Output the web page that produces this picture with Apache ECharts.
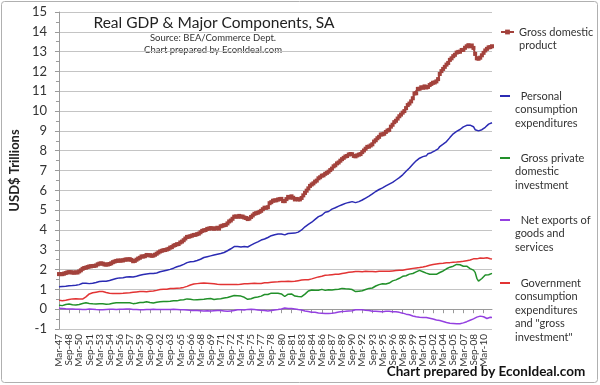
<!DOCTYPE html>
<html><head><meta charset="utf-8">
<script src="https://cdn.jsdelivr.net/npm/echarts@6/dist/echarts.min.js"></script>
<style>html,body{margin:0;padding:0;background:#fff}#c{width:600px;height:385px}</style>
</head><body><div id="c"></div>
<script>
// Quarterly, Mar-47 .. Jun-11, USD trillions (chained dollars)
const firstYear = 1947, quarterCount = 258;
const quarterNames = ['Mar','Jun','Sep','Dec'];
const labelEvery = 6;

const gdp = [
1.772,1.770,1.768,1.795, 1.823,1.857,1.867,1.869, 1.848,1.843,1.862,1.851, 1.907,1.963,2.036,2.080,
2.095,2.127,2.157,2.165, 2.180,2.185,2.205,2.264, 2.299,2.312,2.298,2.257, 2.252,2.256,2.280,2.317,
2.373,2.405,2.436,2.456, 2.444,2.461,2.461,2.494, 2.514,2.505,2.525,2.487, 2.421,2.437,2.497,2.553,
2.594,2.661,2.658,2.676, 2.737,2.721,2.726,2.694, 2.706,2.748,2.800,2.861, 2.913,2.947,2.976,2.988,
3.013,3.044,3.108,3.132, 3.204,3.238,3.279,3.288, 3.367,3.412,3.481,3.568, 3.647,3.657,3.684,3.713,
3.747,3.753,3.788,3.815, 3.882,3.952,3.981,3.995, 4.053,4.066,4.094,4.074, 4.068,4.072,4.110,4.067,
4.182,4.211,4.241,4.254, 4.330,4.428,4.478,4.563, 4.670,4.681,4.664,4.709, 4.665,4.677,4.626,4.604,
4.548,4.575,4.655,4.730, 4.814,4.846,4.869,4.913, 4.964,5.046,5.122,5.116, 5.146,5.350,5.402,5.474,
5.492,5.495,5.535,5.554, 5.568,5.456,5.453,5.556, 5.668,5.629,5.697,5.624, 5.539,5.565,5.537,5.543,
5.614,5.745,5.867,5.982, 6.098,6.222,6.294,6.351, 6.438,6.491,6.605,6.660, 6.738,6.757,6.833,6.880,
6.940,7.021,7.096,7.210, 7.264,7.358,7.406,7.495, 7.573,7.639,7.708,7.733, 7.807,7.833,7.821,7.736,
7.714,7.763,7.801,7.829, 7.928,8.011,8.101,8.192, 8.207,8.264,8.323,8.460, 8.527,8.628,8.699,8.813,
8.826,8.856,8.945,9.017, 9.050,9.213,9.309,9.440, 9.510,9.621,9.738,9.823, 9.920,9.999,10.149,10.302,
10.379,10.489,10.646,10.889, 10.899,11.119,11.125,11.200, 11.174,11.245,11.188,11.218, 11.313,11.370,11.428,11.444,
11.498,11.611,11.872,12.016, 12.127,12.232,12.345,12.430, 12.583,12.662,12.770,12.840, 12.951,12.986,12.996,13.082,
13.089,13.194,13.269,13.326, 13.267,13.311,13.187,12.884, 12.663,12.641,12.695,12.814, 12.938,13.059,13.140,13.216,
13.228,13.272
];

const pce = [
1.13,1.14,1.15,1.15, 1.16,1.17,1.18,1.19, 1.19,1.21,1.21,1.22, 1.24,1.26,1.31,1.28,
1.31,1.28,1.29,1.30, 1.31,1.33,1.35,1.38, 1.40,1.41,1.41,1.40, 1.41,1.43,1.45,1.47,
1.50,1.53,1.55,1.57, 1.58,1.58,1.59,1.60, 1.62,1.62,1.64,1.64, 1.62,1.64,1.66,1.68,
1.71,1.74,1.75,1.76, 1.78,1.80,1.80,1.80, 1.80,1.82,1.83,1.86, 1.89,1.91,1.93,1.95,
1.97,1.98,2.01,2.03, 2.07,2.10,2.14,2.15, 2.19,2.22,2.26,2.32, 2.35,2.36,2.39,2.40,
2.41,2.44,2.46,2.47, 2.52,2.56,2.61,2.62, 2.65,2.67,2.69,2.71, 2.73,2.74,2.77,2.76,
2.81,2.84,2.86,2.90, 2.95,3.00,3.05,3.11, 3.16,3.15,3.16,3.15, 3.14,3.14,3.16,3.12,
3.14,3.19,3.23,3.26, 3.32,3.36,3.40,3.45, 3.49,3.51,3.54,3.60, 3.62,3.69,3.71,3.74,
3.76,3.76,3.79,3.80, 3.79,3.71,3.75,3.80, 3.82,3.82,3.83,3.80, 3.84,3.86,3.89,3.96,
4.00,4.08,4.16,4.23, 4.28,4.35,4.39,4.44, 4.53,4.58,4.67,4.69, 4.74,4.81,4.89,4.92,
4.93,4.99,5.05,5.05, 5.12,5.16,5.20,5.25, 5.27,5.29,5.34,5.36, 5.39,5.41,5.43,5.40,
5.38,5.41,5.43,5.42, 5.51,5.55,5.61,5.68, 5.71,5.76,5.82,5.87, 5.94,5.99,6.04,6.10,
6.12,6.17,6.22,6.26, 6.31,6.37,6.40,6.45, 6.52,6.55,6.64,6.71, 6.78,6.88,6.96,7.05,
7.13,7.23,7.32,7.41, 7.49,7.55,7.62,7.67, 7.70,7.72,7.74,7.85, 7.87,7.90,7.95,7.99,
8.02,8.09,8.21,8.25, 8.33,8.38,8.46,8.56, 8.66,8.76,8.85,8.87, 8.97,9.01,9.07,9.16,
9.20,9.23,9.28,9.31, 9.29,9.30,9.21,9.06, 9.04,9.00,9.05,9.06, 9.12,9.18,9.25,9.34,
9.39,9.41
];

const investment = [
0.20,0.19,0.18,0.22, 0.24,0.26,0.26,0.25, 0.22,0.19,0.21,0.20, 0.24,0.27,0.29,0.33,
0.32,0.31,0.29,0.27, 0.27,0.25,0.26,0.28, 0.28,0.28,0.27,0.25, 0.25,0.25,0.26,0.28,
0.30,0.32,0.33,0.34, 0.33,0.33,0.33,0.33, 0.32,0.32,0.32,0.30, 0.28,0.28,0.30,0.32,
0.34,0.37,0.34,0.35, 0.38,0.35,0.34,0.31, 0.31,0.33,0.35,0.36, 0.37,0.38,0.39,0.38,
0.39,0.39,0.40,0.41, 0.42,0.42,0.42,0.43, 0.46,0.46,0.48,0.49, 0.52,0.51,0.50,0.50,
0.47,0.46,0.48,0.49, 0.49,0.51,0.50,0.50, 0.53,0.53,0.54,0.52, 0.49,0.50,0.51,0.48,
0.53,0.55,0.56,0.56, 0.59,0.62,0.64,0.66, 0.69,0.70,0.68,0.71, 0.66,0.64,0.60,0.59,
0.50,0.48,0.53,0.55, 0.59,0.61,0.62,0.63, 0.66,0.70,0.74,0.73, 0.74,0.79,0.81,0.83,
0.81,0.82,0.80,0.78, 0.77,0.68,0.64,0.70, 0.76,0.73,0.77,0.72, 0.66,0.66,0.64,0.60,
0.63,0.69,0.76,0.84, 0.92,0.96,0.97,0.96, 0.95,0.96,0.96,0.98, 1.00,0.97,0.95,0.95,
0.98,0.97,0.97,1.03, 0.99,1.01,1.01,1.02, 1.05,1.04,1.03,1.01, 1.02,1.01,0.99,0.93,
0.89,0.88,0.91,0.93, 0.93,0.98,0.99,1.03, 1.05,1.06,1.07,1.13, 1.17,1.24,1.24,1.28,
1.28,1.26,1.27,1.29, 1.32,1.37,1.43,1.44, 1.48,1.54,1.56,1.59, 1.66,1.66,1.69,1.73,
1.77,1.77,1.80,1.86, 1.88,1.98,1.96,1.96, 1.89,1.85,1.82,1.74, 1.76,1.76,1.76,1.75,
1.76,1.78,1.85,1.90, 1.93,2.01,2.04,2.09, 2.12,2.14,2.17,2.22, 2.26,2.27,2.24,2.19,
2.17,2.18,2.17,2.11, 2.05,2.03,1.97,1.86, 1.56,1.42,1.43,1.55, 1.64,1.73,1.80,1.74,
1.78,1.81
];

const netExports = [
0.05,0.05,0.04,0.03, 0.02,0.01,0.01,0.01, 0.01,0.02,0.00,0.00, 0.00,0.00,-0.02,-0.02,
-0.01,0.00,0.01,0.01, 0.00,-0.01,-0.02,-0.02, -0.03,-0.03,-0.03,-0.02, -0.01,-0.01,0.00,0.00,
0.00,-0.01,-0.01,-0.01, 0.00,0.00,0.00,0.01, 0.01,0.01,0.01,0.00, -0.01,-0.01,-0.02,-0.03,
-0.03,-0.04,-0.03,-0.03, -0.02,-0.02,-0.01,-0.01, 0.00,-0.01,-0.02,-0.02, -0.02,-0.02,-0.02,-0.03,
-0.02,-0.01,-0.02,-0.01, 0.00,-0.01,-0.01,-0.01, -0.03,-0.02,-0.03,-0.04, -0.04,-0.05,-0.06,-0.06,
-0.06,-0.06,-0.07,-0.08, -0.08,-0.08,-0.09,-0.09, -0.08,-0.09,-0.09,-0.09, -0.08,-0.07,-0.07,-0.07,
-0.07,-0.09,-0.09,-0.10, -0.11,-0.10,-0.09,-0.09, -0.07,-0.05,-0.03,-0.02, -0.03,-0.03,-0.04,-0.03,
-0.01,0.01,0.00,0.00, -0.02,-0.03,-0.04,-0.05, -0.06,-0.07,-0.07,-0.08, -0.09,-0.07,-0.07,-0.06,
-0.04,-0.04,-0.02,-0.01, 0.01,0.04,0.06,0.05, 0.04,0.03,0.03,0.02, 0.01,0.02,-0.02,-0.03,
-0.04,-0.07,-0.09,-0.10, -0.12,-0.14,-0.15,-0.16, -0.16,-0.18,-0.19,-0.20, -0.20,-0.21,-0.22,-0.22,
-0.22,-0.21,-0.21,-0.20, -0.18,-0.16,-0.14,-0.14, -0.12,-0.11,-0.11,-0.10, -0.09,-0.08,-0.08,-0.05,
-0.03,-0.02,-0.03,-0.03, -0.03,-0.05,-0.06,-0.06, -0.07,-0.09,-0.10,-0.10, -0.11,-0.12,-0.12,-0.12,
-0.13,-0.13,-0.11,-0.10, -0.11,-0.11,-0.13,-0.12, -0.13,-0.15,-0.16,-0.17, -0.20,-0.23,-0.25,-0.25,
-0.28,-0.31,-0.34,-0.36, -0.38,-0.40,-0.41,-0.42, -0.42,-0.42,-0.42,-0.43, -0.46,-0.49,-0.50,-0.53,
-0.55,-0.56,-0.57,-0.59, -0.62,-0.65,-0.67,-0.70, -0.71,-0.71,-0.72,-0.73, -0.73,-0.73,-0.73,-0.70,
-0.69,-0.67,-0.63,-0.59, -0.56,-0.50,-0.49,-0.48, -0.40,-0.33,-0.35,-0.35, -0.38,-0.45,-0.47,-0.41,
-0.41,-0.42
];

const government = [
0.45,0.44,0.43,0.44, 0.45,0.47,0.49,0.51, 0.52,0.53,0.53,0.52, 0.52,0.51,0.51,0.55,
0.62,0.70,0.77,0.80, 0.83,0.85,0.86,0.87, 0.89,0.90,0.89,0.87, 0.84,0.82,0.80,0.80,
0.79,0.79,0.79,0.79, 0.79,0.80,0.80,0.81, 0.82,0.83,0.83,0.84, 0.85,0.86,0.87,0.89,
0.89,0.89,0.89,0.88, 0.88,0.89,0.90,0.91, 0.92,0.94,0.95,0.97, 0.99,1.00,1.01,1.01,
1.01,1.02,1.04,1.04, 1.05,1.06,1.06,1.06, 1.07,1.08,1.10,1.13, 1.15,1.18,1.22,1.24,
1.27,1.28,1.29,1.30, 1.31,1.32,1.32,1.32, 1.31,1.31,1.30,1.29, 1.28,1.27,1.26,1.26,
1.25,1.24,1.24,1.24, 1.24,1.25,1.24,1.24, 1.24,1.24,1.24,1.25, 1.26,1.27,1.28,1.28,
1.29,1.30,1.30,1.31, 1.31,1.30,1.30,1.30, 1.30,1.32,1.33,1.33, 1.34,1.35,1.36,1.37,
1.37,1.37,1.38,1.38, 1.40,1.41,1.40,1.40, 1.41,1.41,1.40,1.41, 1.41,1.42,1.44,1.46,
1.47,1.47,1.48,1.48, 1.49,1.52,1.53,1.56, 1.58,1.61,1.63,1.64, 1.66,1.68,1.71,1.71,
1.72,1.74,1.74,1.76, 1.76,1.76,1.76,1.78, 1.80,1.81,1.83,1.84, 1.86,1.87,1.88,1.90,
1.90,1.90,1.90,1.89, 1.89,1.90,1.91,1.91, 1.90,1.90,1.90,1.89, 1.89,1.89,1.91,1.90,
1.91,1.91,1.91,1.90, 1.91,1.93,1.93,1.94, 1.95,1.96,1.97,1.97, 1.97,1.99,2.00,2.02,
2.03,2.04,2.06,2.09, 2.08,2.10,2.10,2.11, 2.13,2.16,2.17,2.20, 2.22,2.24,2.25,2.27,
2.28,2.31,2.31,2.31, 2.32,2.33,2.34,2.34, 2.35,2.36,2.37,2.36, 2.38,2.39,2.40,2.42,
2.42,2.43,2.45,2.46, 2.48,2.51,2.54,2.55, 2.54,2.58,2.58,2.58, 2.57,2.60,2.60,2.59,
2.55,2.53
];

const seriesNames = ['Gross domestic product','Personal consumption expenditures','Gross private domestic investment','Net exports of goods and services','Government consumption expenditures and "gross investment"'];
const legendLines = [
  ['Gross domestic','product'],
  ['\u00a0\u00a0Personal','consumption','expenditures'],
  ['\u00a0\u00a0Gross private','domestic','investment'],
  ['\u00a0\u00a0Net exports of','goods and','services'],
  ['\u00a0\u00a0Government','consumption','expenditures','and "gross','investment"']
];
const colors = ['#A3423C','#2B2BB3','#22902A','#9440E0','#E23434'];

const categories = [];
for (let i = 0; i < quarterCount; i++) {
  const y = firstYear + Math.floor(i / 4);
  categories.push(quarterNames[i % 4] + '-' + String(y).slice(2));
}

const FONT = 'Lato, "Open Sans", sans-serif';
const LH = 13.5;
const legendIconY = [32, 96, 158, 220, 283];

const legends = seriesNames.map((name, i) => {
  const n = legendLines[i].length;
  const blanks = new Array(n - 1).fill('');
  const text = blanks.concat(legendLines[i]).join('\n');
  const lg = {
    data: [name],
    left: 500,
    top: legendIconY[i] - (2 * n - 1) * LH / 2,
    padding: 0,
    itemWidth: 13,
    itemHeight: 6,
    itemGap: 0,
    selectedMode: false,
    formatter: () => text,
    textStyle: { fontFamily: FONT, fontSize: 11, color: '#333', lineHeight: LH }
  };
  if (i > 0) { lg.icon = 'rect'; lg.itemHeight = 2; lg.itemWidth = 10; }
  return lg;
});

const dataSets = [gdp, pce, investment, netExports, government];
const series = seriesNames.map((name, i) => {
  const s = {
    name: name, type: 'line', data: dataSets[i],
    color: colors[i],
    lineStyle: { color: colors[i], width: i === 0 ? 2 : 1.5 },
    symbol: 'none', animation: false
  };
  if (i === 0) {
    s.symbol = 'rect'; s.symbolSize = 4; s.showAllSymbol = true;
    s.itemStyle = { color: colors[0] };
  }
  return s;
});

const everySixth = (idx) => idx % labelEvery === 0;

const chart = echarts.init(document.getElementById('c'), null, { renderer: 'canvas' });
chart.setOption({
  animation: false,
  backgroundColor: '#fff',
  grid: { left: 58, right: 108, top: 12, bottom: 56 },
  legend: legends,
  xAxis: {
    type: 'category', data: categories, boundaryGap: false,
    axisLine: { lineStyle: { color: '#9a9a9a' } },
    axisTick: { interval: everySixth, length: 4, lineStyle: { color: '#9a9a9a' } },
    axisLabel: { interval: everySixth, rotate: 90, margin: 5, showMinLabel: true, showMaxLabel: true, hideOverlap: false,
                 fontFamily: FONT, fontSize: 10, color: '#333' },
    splitLine: { show: false }
  },
  yAxis: {
    type: 'value', min: -1, max: 15, interval: 1,
    name: 'USD$ Trillions', nameLocation: 'middle', nameGap: 32,
    nameTextStyle: { fontFamily: FONT, fontSize: 13, fontWeight: 'bold', color: '#222' },
    axisLine: { show: true, lineStyle: { color: '#9a9a9a' } },
    axisTick: { show: true, length: 4, lineStyle: { color: '#9a9a9a' } },
    minorTick: { show: true, splitNumber: 2, length: 3, lineStyle: { color: '#9a9a9a' } },
    axisLabel: { margin: 12, fontFamily: FONT, fontSize: 13, color: '#333' },
    splitLine: { lineStyle: { color: '#c4c4c4', width: 1 } }
  },
  graphic: [
    { type: 'rect', shape: { x: 1.5, y: 1.5, width: 596, height: 381, r: 3 }, style: { fill: 'none', stroke: '#b0b0b0', lineWidth: 1 }, silent: true, z: -1 },
    { type: 'text', x: 214, y: 23, style: { text: 'Real GDP & Major Components, SA', font: '15.5px ' + FONT, fill: '#222', textAlign: 'center', textVerticalAlign: 'middle' } },
    { type: 'text', x: 213, y: 37.5, style: { text: 'Source: BEA/Commerce Dept.', font: '9.5px ' + FONT, fill: '#333', textAlign: 'center', textVerticalAlign: 'middle' } },
    { type: 'text', x: 213, y: 49.5, style: { text: 'Chart prepared by EconIdeal.com', font: '9.5px ' + FONT, fill: '#333', textAlign: 'center', textVerticalAlign: 'middle' } },
    { type: 'text', x: 486, y: 372, style: { text: 'Chart prepared by EconIdeal.com', font: 'bold 13.5px ' + FONT, fill: '#111', textAlign: 'center', textVerticalAlign: 'middle' } }
  ],
  series: series
});
</script>
</body></html>
